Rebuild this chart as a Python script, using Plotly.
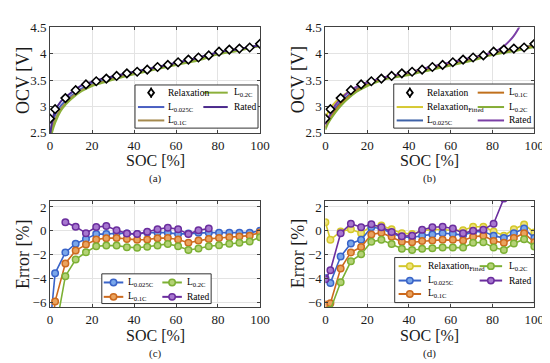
import plotly.graph_objects as go

W, H = 550, 363

# ---------------- data ----------------
soc_relax = [0, 2.4, 7.3, 12.2, 17.1, 22.0, 26.8, 31.7, 36.6, 41.5, 46.3, 51.2,
             56.1, 61.0, 65.9, 70.7, 75.6, 80.5, 85.4, 90.2, 95.1, 100]
ocv_relax = [2.77, 2.95, 3.16, 3.31, 3.42, 3.48, 3.53, 3.58, 3.63, 3.66, 3.70, 3.75,
             3.79, 3.84, 3.89, 3.93, 3.97, 4.04, 4.08, 4.10, 4.12, 4.19]

soc_curve = [0, 1, 2.5, 5, 7.5, 10, 15, 20, 25, 30, 40, 50, 60, 70, 80, 90, 100]
# panel (a)
ocv_a_L0025 = [2.45, 2.66, 2.85, 3.01, 3.11, 3.20, 3.34, 3.43, 3.49, 3.55, 3.65, 3.73, 3.82, 3.91, 4.02, 4.09, 4.17]
ocv_a_L01 = [2.40, 2.58, 2.76, 2.95, 3.07, 3.17, 3.31, 3.41, 3.47, 3.53, 3.63, 3.72, 3.81, 3.89, 4.01, 4.08, 4.16]
ocv_a_L02 = [2.35, 2.52, 2.70, 2.91, 3.04, 3.14, 3.29, 3.39, 3.45, 3.51, 3.61, 3.70, 3.79, 3.87, 3.99, 4.06, 4.15]
ocv_a_rated = [2.45, 2.72, 2.93, 3.09, 3.18, 3.26, 3.40, 3.47, 3.53, 3.57, 3.66, 3.74, 3.83, 3.92, 4.03, 4.09, 4.16]
# panel (b)
ocv_b_fit = [2.78, 2.87, 2.97, 3.09, 3.18, 3.25, 3.36, 3.44, 3.51, 3.56, 3.65, 3.74, 3.83, 3.92, 4.02, 4.10, 4.17]
ocv_b_L0025 = [2.66, 2.75, 2.84, 2.98, 3.09, 3.18, 3.33, 3.43, 3.51, 3.56, 3.64, 3.73, 3.82, 3.91, 4.02, 4.09, 4.16]
ocv_b_L01 = [2.60, 2.69, 2.78, 2.94, 3.06, 3.15, 3.31, 3.41, 3.49, 3.55, 3.62, 3.71, 3.80, 3.89, 4.00, 4.07, 4.15]
ocv_b_L02 = [2.56, 2.66, 2.76, 2.90, 3.02, 3.12, 3.28, 3.39, 3.47, 3.53, 3.60, 3.69, 3.78, 3.87, 3.98, 4.05, 4.13]
soc_rated_b = [0, 1, 2.5, 5, 7.5, 10, 15, 20, 25, 30, 40, 50, 60, 70, 75, 80, 85, 88, 90, 92, 94]
ocv_b_rated = [2.66, 2.76, 2.86, 3.04, 3.15, 3.24, 3.38, 3.46, 3.52, 3.57, 3.65, 3.75, 3.84, 3.93,
               3.97, 4.03, 4.13, 4.24, 4.33, 4.45, 4.60]

# panel (c) errors [%]
err_c_L0025 = [-8.0, -3.55, -1.8, -1.07, -0.67, -0.27, -0.27, -0.2, -0.22, -0.27, -0.13, -0.13,
               -0.15, -0.27, -0.22, -0.15, -0.15, -0.15, -0.15, -0.15, -0.15, 0.0]
err_c_L01 = [-10.0, -5.9, -2.72, -1.65, -1.15, -0.72, -0.61, -0.59, -0.67, -0.75, -0.72, -0.61,
             -0.59, -0.72, -0.99, -0.8, -0.67, -0.59, -0.53, -0.48, -0.4, -0.13]
err_c_L02 = [-12.0, -8.5, -3.79, -2.4, -1.79, -1.28, -1.23, -1.23, -1.36, -1.41, -1.33, -1.23,
             -1.09, -1.28, -1.6, -1.47, -1.28, -1.2, -1.07, -0.99, -0.88, -0.53]
err_c_rated = [None, None, 0.72, 0.35, -0.19, 0.32, 0.4, 0.05, -0.21, -0.27, -0.08, 0.13,
               0.27, 0.13, -0.27, 0.05, 0.19, None, None, None, None, None]

# panel (d) errors [%]
err_d_fit = [0.72, -0.75, -0.05, 0.13, -0.19, 0.4, 0.45, 0.13, -0.19, -0.27, 0.0, 0.13,
             0.08, 0.05, 0.05, 0.35, 0.35, -0.05, -0.4, 0.13, 0.53, -0.13]
err_d_L0025 = [-3.95, -4.35, -2.15, -1.05, -0.75, 0.3, 0.2, -0.2, -0.5, -0.55, -0.4, -0.3,
               -0.2, -0.25, -0.35, -0.1, -0.05, -0.4, -0.6, -0.2, 0.2, -0.6]
err_d_L01 = [-6.15, -6.05, -3.15, -1.8, -1.35, -0.3, -0.15, -0.5, -0.9, -0.95, -0.85, -0.8,
             -0.75, -0.75, -0.8, -0.5, -0.4, -0.85, -1.0, -0.6, -0.2, -0.95]
err_d_L02 = [-7.2, -6.6, -4.3, -2.55, -1.95, -0.9, -0.75, -1.1, -1.5, -1.6, -1.5, -1.45,
             -1.4, -1.4, -1.4, -1.0, -0.95, -1.4, -1.6, -1.05, -0.7, -1.3]
err_d_rated = [-4.05, -3.3, -0.2, 0.6, 0.3, 0.55, 0.3, -0.1, -0.45, -0.4, 0.1, 0.3,
               0.35, 0.2, -0.2, 0.0, 0.1, 0.6, 2.7, 6.0, 11.0, 16.0]

lbl_relax = "Relaxation"
lbl_fit = "Relaxation<sub>Fitted</sub>"
lbl_L0025 = "L<sub>0.025C</sub>"
lbl_L01 = "L<sub>0.1C</sub>"
lbl_L02 = "L<sub>0.2C</sub>"
lbl_rated = "Rated"
x_title = "SOC [%]"
ocv_title = "OCV [V]"
err_title = "Error [%]"
captions = ["(a)", "(b)", "(c)", "(d)"]

# ---------------- styles ----------------
FONT = "Liberation Serif"
A_COL = dict(L0025="#4a5fc1", L01="#a58a4e", L02="#8cb03a", rated="#4b2a8c")
B_COL = dict(fit="#d6c932", L0025="#3e62a8", L01="#c0701c", L02="#85ad35", rated="#7b3fa6")
E_COL = dict(fit=("#d4c82c", "#eee27a"), L0025=("#3a64c8", "#7aa7ea"), L01=("#cc6a1e", "#eaa35e"),
             L02=("#7cb034", "#b4d276"), rated=("#6b2e9e", "#a777cf"))


def X(p):
    return p / W


def Y(p):
    return 1 - p / H


fig = go.Figure()

# subplot pixel boxes: (x0, x1, y0, y1)
boxes = {
    "a": (40, 255, 13, 123),
    "b": (322, 536, 13, 123),
    "c": (40, 255, 194, 305),
    "d": (322, 536, 194, 305),
}
axmap = {"a": ("x", "y"), "b": ("x2", "y2"), "c": ("x3", "y3"), "d": ("x4", "y4")}


def curve(panel, xs, ys, color, name):
    xa, ya = axmap[panel]
    fig.add_trace(go.Scatter(x=xs, y=ys, mode="lines", name=name, xaxis=xa, yaxis=ya,
                             line=dict(color=color, width=2, shape="spline", smoothing=0.6),
                             showlegend=False))


def relax(panel):
    xa, ya = axmap[panel]
    fig.add_trace(go.Scatter(x=soc_relax, y=ocv_relax, mode="markers", name=lbl_relax,
                             xaxis=xa, yaxis=ya, showlegend=False,
                             marker=dict(symbol="diamond", size=6.5, color="white",
                                         line=dict(color="black", width=1.6)),
                             error_y=dict(type="constant", value=0.035, width=0,
                                          thickness=1.2, color="black")))


def errline(panel, ys, key, name):
    xa, ya = axmap[panel]
    c, f = E_COL[key]
    fig.add_trace(go.Scatter(x=soc_relax, y=ys, mode="lines+markers", name=name,
                             xaxis=xa, yaxis=ya, showlegend=False,
                             line=dict(color=c, width=1.6),
                             marker=dict(symbol="circle", size=6.5, color=f,
                                         line=dict(color=c, width=1.5))))


# panel (a)
curve("a", soc_curve, ocv_a_L0025, A_COL["L0025"], lbl_L0025)
curve("a", soc_curve, ocv_a_L01, A_COL["L01"], lbl_L01)
curve("a", soc_curve, ocv_a_L02, A_COL["L02"], lbl_L02)
curve("a", soc_curve, ocv_a_rated, A_COL["rated"], lbl_rated)
relax("a")
# panel (b)
curve("b", soc_curve, ocv_b_fit, B_COL["fit"], lbl_fit)
curve("b", soc_curve, ocv_b_L0025, B_COL["L0025"], lbl_L0025)
curve("b", soc_curve, ocv_b_L01, B_COL["L01"], lbl_L01)
curve("b", soc_curve, ocv_b_L02, B_COL["L02"], lbl_L02)
curve("b", soc_rated_b, ocv_b_rated, B_COL["rated"], lbl_rated)
relax("b")
# panel (c)
errline("c", err_c_L0025, "L0025", lbl_L0025)
errline("c", err_c_L01, "L01", lbl_L01)
errline("c", err_c_L02, "L02", lbl_L02)
errline("c", err_c_rated, "rated", lbl_rated)
# panel (d)
errline("d", err_d_fit, "fit", lbl_fit)
errline("d", err_d_L0025, "L0025", lbl_L0025)
errline("d", err_d_L01, "L01", lbl_L01)
errline("d", err_d_L02, "L02", lbl_L02)
errline("d", err_d_rated, "rated", lbl_rated)

# ---------------- axes ----------------
AXC = "#404040"
common = dict(showline=True, linecolor=AXC, linewidth=1, mirror="ticks", ticks="inside",
              ticklen=3, tickcolor=AXC, showgrid=True, gridcolor="#e3e3e3", gridwidth=1,
              zeroline=False, tickfont=dict(family=FONT, size=13, color="#1a1a1a"))
layout_axes = {}
for i, p in enumerate(["a", "b", "c", "d"]):
    x0, x1, y0, y1 = boxes[p]
    sfx = "" if i == 0 else str(i + 1)
    layout_axes["xaxis" + sfx] = dict(domain=[X(x0), X(x1)], anchor="y" + sfx,
                                      range=[0, 100], dtick=20, **common)
    if p in ("a", "b"):
        yr, dt = [2.5, 4.5], 0.5
    else:
        yr, dt = [-6.4, 2.5], 2
    layout_axes["yaxis" + sfx] = dict(domain=[Y(y1), Y(y0)], anchor="x" + sfx,
                                      range=yr, dtick=dt, **common)

fig.update_layout(**layout_axes)

# ---------------- titles / captions ----------------
ann = []
shapes = []


def text(x, y, s, size, angle=0, anchor="center"):
    ann.append(dict(x=X(x), y=Y(y), xref="paper", yref="paper", text=s, showarrow=False,
                    xanchor=anchor, yanchor="middle", textangle=angle,
                    font=dict(family=FONT, size=size, color="#1a1a1a")))


for p, cap in zip(["a", "b", "c", "d"], captions):
    x0, x1, y0, y1 = boxes[p]
    cx = (x0 + x1) / 2
    text(cx, y1 + 29, x_title, 16)
    text(cx, y1 + 48, cap, 11)
    ytitle = ocv_title if p in ("a", "b") else err_title
    text(x0 - 28, (y0 + y1) / 2, ytitle, 18, angle=-90)


# ---------------- legends (drawn in paper space) ----------------
def legend_box(x0, y0, x1, y1):
    shapes.append(dict(type="rect", xref="paper", yref="paper", x0=X(x0), x1=X(x1),
                       y0=Y(y1), y1=Y(y0), fillcolor="white",
                       line=dict(color="#333333", width=1), layer="above"))


def legend_entry(kind, lx0, lx1, yc, color, label, fill=None, tx=None):
    cx = (lx0 + lx1) / 2
    if kind in ("line", "linemarker"):
        shapes.append(dict(type="line", xref="paper", yref="paper", x0=X(lx0), x1=X(lx1),
                           y0=Y(yc), y1=Y(yc), line=dict(color=color, width=2), layer="above"))
    if kind == "linemarker":
        r = 3.3
        shapes.append(dict(type="circle", xref="paper", yref="paper", x0=X(cx - r), x1=X(cx + r),
                           y0=Y(yc + r), y1=Y(yc - r), fillcolor=fill,
                           line=dict(color=color, width=1.5), layer="above"))
    if kind == "diamond":
        shapes.append(dict(type="line", xref="paper", yref="paper", x0=X(cx), x1=X(cx),
                           y0=Y(yc + 5.5), y1=Y(yc - 5.5), line=dict(color="black", width=1.2),
                           layer="above"))
        path = "M {} {} L {} {} L {} {} L {} {} Z".format(
            X(cx), Y(yc - 4), X(cx + 3), Y(yc), X(cx), Y(yc + 4), X(cx - 3), Y(yc))
        shapes.append(dict(type="path", xref="paper", yref="paper", path=path,
                           fillcolor="white", line=dict(color="black", width=1.8), layer="above"))
    ann.append(dict(x=X(tx if tx is not None else lx1 + 3), y=Y(yc), xref="paper", yref="paper",
                    text=label, showarrow=False, xanchor="left", yanchor="middle",
                    font=dict(family=FONT, size=9.5, color="black")))


# (a)
legend_box(127, 73, 253, 118)
legend_entry("diamond", 130, 157, 81, "black", lbl_relax, tx=159)
legend_entry("line", 130, 157, 96, A_COL["L0025"], lbl_L0025, tx=159)
legend_entry("line", 130, 157, 110, A_COL["L01"], lbl_L01, tx=159)
legend_entry("line", 197, 222, 81, A_COL["L02"], lbl_L02, tx=226)
legend_entry("line", 197, 222, 96, A_COL["rated"], lbl_rated, tx=226)
# (b)
legend_box(392, 72, 536, 118)
legend_entry("diamond", 395, 422, 81, "black", lbl_relax, tx=424)
legend_entry("line", 395, 422, 96, B_COL["fit"], lbl_fit, tx=424)
legend_entry("line", 395, 422, 110, B_COL["L0025"], lbl_L0025, tx=424)
legend_entry("line", 478, 505, 81, B_COL["L01"], lbl_L01, tx=508)
legend_entry("line", 478, 505, 96, B_COL["L02"], lbl_L02, tx=508)
legend_entry("line", 478, 505, 110, B_COL["rated"], lbl_rated, tx=508)
# (c)
legend_box(93, 270, 205, 301)
legend_entry("linemarker", 95, 115, 279, E_COL["L0025"][0], lbl_L0025, fill=E_COL["L0025"][1], tx=118)
legend_entry("linemarker", 95, 115, 294, E_COL["L01"][0], lbl_L01, fill=E_COL["L01"][1], tx=118)
legend_entry("linemarker", 155, 175, 279, E_COL["L02"][0], lbl_L02, fill=E_COL["L02"][1], tx=178)
legend_entry("linemarker", 155, 175, 294, E_COL["rated"][0], lbl_rated, fill=E_COL["rated"][1], tx=178)
# (d)
legend_box(393, 253, 536, 300)
legend_entry("linemarker", 397, 420, 262, E_COL["fit"][0], lbl_fit, fill=E_COL["fit"][1], tx=425)
legend_entry("linemarker", 397, 420, 277, E_COL["L0025"][0], lbl_L0025, fill=E_COL["L0025"][1], tx=425)
legend_entry("linemarker", 397, 420, 291, E_COL["L01"][0], lbl_L01, fill=E_COL["L01"][1], tx=425)
legend_entry("linemarker", 480, 503, 262, E_COL["L02"][0], lbl_L02, fill=E_COL["L02"][1], tx=508)
legend_entry("linemarker", 480, 503, 277, E_COL["rated"][0], lbl_rated, fill=E_COL["rated"][1], tx=508)

fig.update_layout(width=W, height=H, margin=dict(l=0, r=0, t=0, b=0),
                  paper_bgcolor="white", plot_bgcolor="white", showlegend=False,
                  annotations=ann, shapes=shapes, font=dict(family=FONT))

fig.write_html("out.html")
